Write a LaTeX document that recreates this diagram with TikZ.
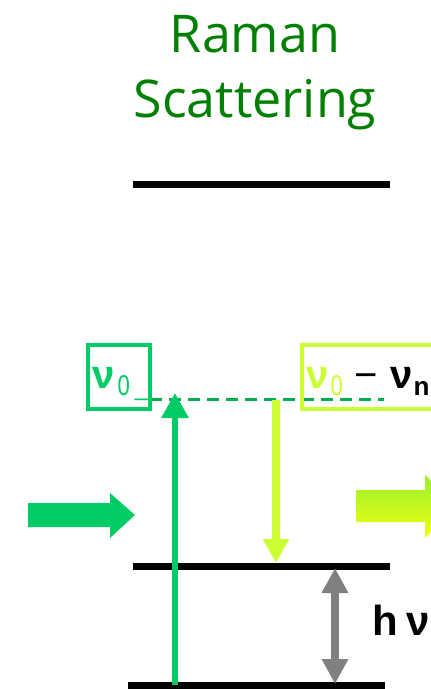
\documentclass[tikz,border=0pt]{standalone}
\usepackage{fontspec}
\setmainfont{Open Sans}
\newfontfamily\lblfont{Liberation Sans}
\usetikzlibrary{arrows.meta,positioning}
\definecolor{titlegreen}{HTML}{008000}
\definecolor{photongreen}{HTML}{00CC66}
\definecolor{dashgreen}{HTML}{00B050}
\definecolor{stokesyellow}{HTML}{CCFF33}
\definecolor{shiftgray}{HTML}{808080}
\definecolor{fadetop}{HTML}{99F02A}
\definecolor{fadebottom}{HTML}{F2FF14}
\newcommand{\sub}[1]{\raisebox{-3.5pt}{\fontsize{13}{13}\selectfont #1}}
\newcommand{\freq}{\textbf{ν}}
\tikzset{
  level/.style={line width=3.5pt, line cap=butt},
  titletext/.style={titlegreen, font=\fontsize{26}{30}\selectfont, anchor=base, inner sep=0pt},
  lbltext/.style={font=\lblfont\fontsize{20}{20}\selectfont, anchor=base west, inner sep=0pt},
  boxline/.style={line width=2pt},
  uparrow/.style={photongreen, line width=3pt, -{Triangle[length=12.5pt, width=13pt]}},
  downarrow/.style={stokesyellow, line width=4pt, -{Triangle[length=12pt, width=12.5pt]}},
  shiftarrow/.style={shiftgray, line width=4pt, {Triangle[length=12.5pt, width=12.5pt]}-{Triangle[length=12.5pt, width=12.5pt]}}
}
\begin{document}
\begin{tikzpicture}[x=0.5pt, y=-0.5pt]
\useasboundingbox (0,0) rectangle (431,689);
\clip (0,0) rectangle (431,689);
% title
\node[titletext] (title1) at (255,53) {Raman};
\node[titletext] (title2) at (255,118) {Scattering};
% energy levels
\draw[level] (133,185) -- (390,185);
\draw[level] (133,566) -- (390,566);
\draw[level] (128,685) -- (385,685);
% virtual level
\coordinate (vleft) at (150,399);
\coordinate (vright) at (384,399);
\draw[dashgreen, line width=1.5pt, dash pattern=on 6pt off 3.5pt] (vleft) -- (vright);
\draw[boxline, photongreen] (88,345) rectangle (150,409);
\draw[boxline, stokesyellow] (302,345) rectangle (460,409);
\node[lbltext, photongreen] (nu0) at (92,388) {\freq\hspace{1.5pt}\sub{\scalebox{0.85}[1.1]{0}\hspace{2.5pt}\_}};
\node[lbltext] (nus) at (306,388) {\textcolor{stokesyellow}{\freq\hspace{1pt}\sub{\scalebox{0.85}[1.1]{0}}}\hspace{6pt}−\hspace{6pt}\freq\hspace{0.5pt}\sub{\textbf{n}}};
% transitions
\coordinate (g0) at (175,685);
\coordinate (v0) at (175,393);
\draw[uparrow] (g0) -- (v0);
\coordinate (v1) at (276,400);
\coordinate (e1) at (276,563);
\draw[downarrow] (v1) -- (e1);
\coordinate (e2) at (335,568);
\coordinate (g2) at (335,684);
\draw[shiftarrow] (e2) -- (g2);
\node[lbltext, font=\lblfont\bfseries\fontsize{21}{21}\selectfont] (hnu) at (372,635) {h\hspace{4pt}ν\sub{n}};
% incoming and scattered light
\fill[photongreen] (28,503) -- (110,503) -- (110,493) -- (135,515) -- (110,538) -- (110,527) -- (28,527) -- cycle;
\shade[top color=fadetop, bottom color=fadebottom] (356,490) -- (425,490) -- (425,475) -- (458,506) -- (425,538) -- (425,522) -- (356,522) -- cycle;
\end{tikzpicture}
\end{document}
